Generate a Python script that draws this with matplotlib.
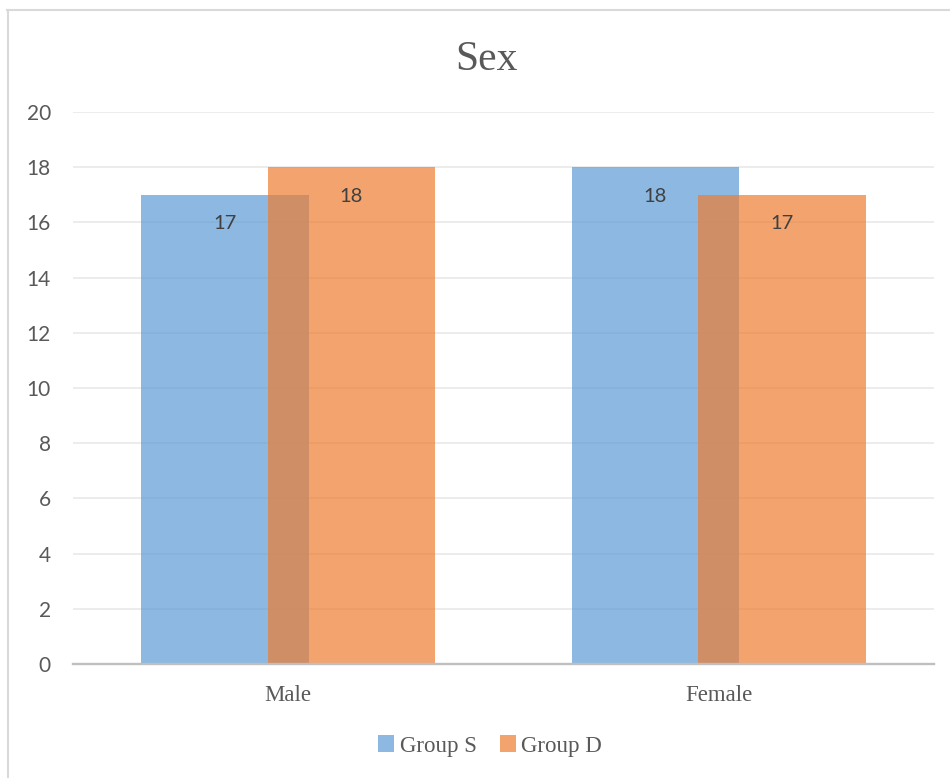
import numpy as np
import matplotlib
matplotlib.use('Agg')
import matplotlib.pyplot as plt
from matplotlib.lines import Line2D

# chart data
categories = ['Male', 'Female']
group_s = [17, 18]
group_d = [18, 17]
series_names = ['Group S', 'Group D']
yticks = list(range(0, 21, 2))

blue = '#5B9BD5'
orange = '#ED7D31'
text_col = '#595959'

fig = plt.figure(figsize=(9.5, 7.78), dpi=100)
ax = fig.add_axes([73/950, 114/778, 861/950, 552/778])

x = np.arange(len(categories))
width = 0.39
offset = 0.147

bars_s = ax.bar(x - offset, group_s, width, color=blue, alpha=0.7, zorder=3,
                label=series_names[0], linewidth=0)
bars_d = ax.bar(x + offset, group_d, width, color=orange, alpha=0.7, zorder=4,
                label=series_names[1], linewidth=0)

# value labels just inside the top of each bar
for bars, vals in ((bars_s, group_s), (bars_d, group_d)):
    for b, v in zip(bars, vals):
        ax.annotate(str(v), (b.get_x() + b.get_width() / 2, v),
                    xytext=(0, -21), textcoords='offset points',
                    ha='center', va='center', fontsize=14.5,
                    family='Lato', color='#404040', zorder=5)

ax.set_xlim(-0.5, 1.5)
ax.set_ylim(0, 20)
ax.set_yticks(yticks)
ax.set_yticklabels([str(t) for t in yticks], family='Lato', fontsize=15,
                   color=text_col)
ax.set_xticks(x)
ax.set_xticklabels(categories, family='Liberation Serif', fontsize=16.5,
                   color=text_col)
ax.tick_params(axis='both', length=0)
ax.tick_params(axis='y', pad=16)
ax.tick_params(axis='x', pad=15)

ax.grid(axis='y', color='#E9E9E9', linewidth=1.2, zorder=0)
for side in ('top', 'right', 'left'):
    ax.spines[side].set_visible(False)
ax.spines['bottom'].set_color('#BFBFBF')
ax.spines['bottom'].set_linewidth(1.7)
ax.spines['bottom'].set_zorder(6)

fig.text(486/950, 1 - 60/778, 'Sex', ha='center', va='center',
         family='Liberation Serif', fontsize=30, color=text_col)

fig.legend(loc='center', bbox_to_anchor=(490/950, 1 - 746/778), ncol=2,
           frameon=False, handlelength=0.7, handleheight=0.7,
           handletextpad=0.25, columnspacing=1.0,
           prop={'family': 'Liberation Serif', 'size': 16.5},
           labelcolor=text_col)

# outer frame lines (top and left edge only)
fig.add_artist(Line2D([7/950, 1], [1 - 10/778, 1 - 10/778],
                      transform=fig.transFigure, color='#D9D9D9', lw=1.5))
fig.add_artist(Line2D([7.5/950, 7.5/950], [0, 1 - 10/778],
                      transform=fig.transFigure, color='#D9D9D9', lw=1.5))

fig.savefig('out.png', dpi=100)
